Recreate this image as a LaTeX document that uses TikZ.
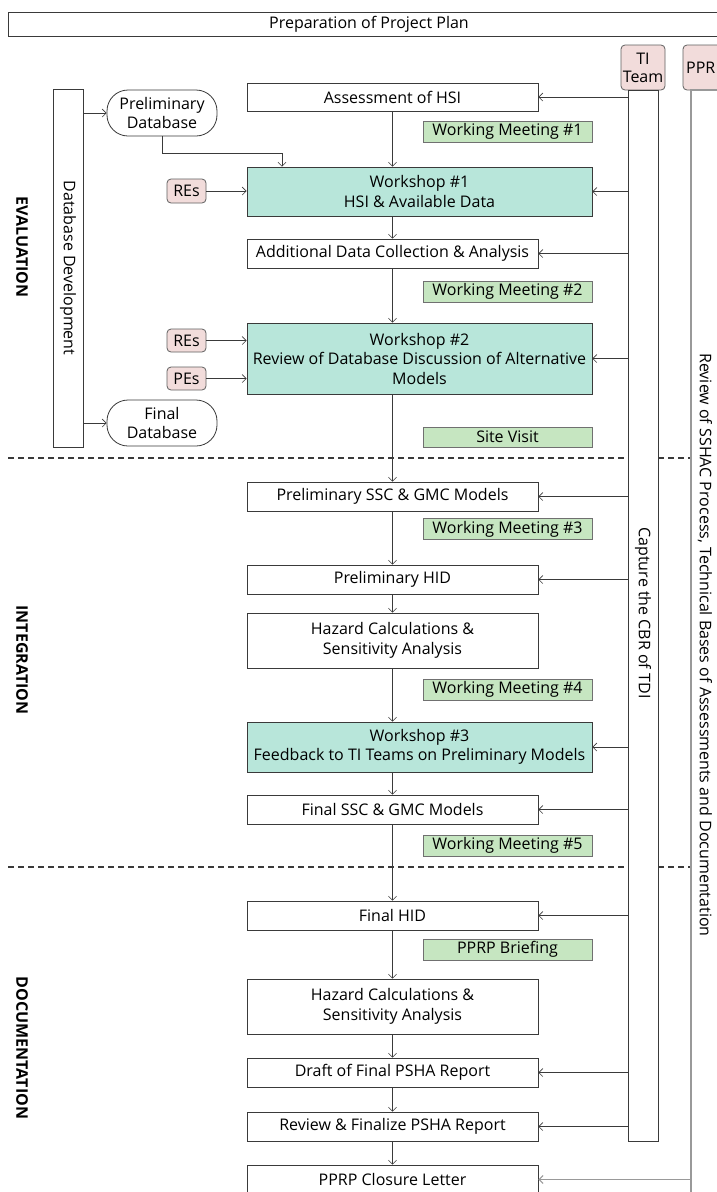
\documentclass[tikz,border=0pt]{standalone}
\usepackage{fontspec}
\setmainfont{Open Sans}
\usetikzlibrary{arrows.meta}
\definecolor{bd}{HTML}{3A3A3A}
\definecolor{wsfill}{HTML}{B8E6DA}
\definecolor{wmfill}{HTML}{C6E6C1}
\definecolor{wmbd}{HTML}{707070}
\definecolor{pkfill}{HTML}{F2DCDB}
\definecolor{pkbd}{HTML}{606060}
\definecolor{pprbd}{HTML}{999999}
\tikzset{
  base/.style={inner sep=0pt, align=center, font=\fontsize{16}{19.5}\selectfont},
  box/.style={base, draw=bd, line width=0.8pt, fill=white},
  wsbox/.style={box, fill=wsfill},
  wmbox/.style={base, draw=wmbd, line width=0.8pt, fill=wmfill, minimum width=169pt, minimum height=21pt},
  pkbox/.style={base, draw=pkbd, line width=0.8pt, fill=pkfill, rounded corners=4pt},
  dbbox/.style={box, rounded corners=21pt, minimum width=110pt, minimum height=46pt},
  arr/.style={draw=bd, line width=0.6pt, -{Straight Barb[length=4pt,width=8pt]}},
  sep/.style={draw=bd, line width=1.2pt, dash pattern=on 6pt off 4pt},
  phase/.style={font=\bfseries\fontsize{16}{18}\selectfont, rotate=-90}
}
\begin{document}
\begin{tikzpicture}[x=1pt,y=-1pt]
\clip (0,0) rectangle (717,1192);
\fill[white] (0,0) rectangle (717,1192);

% separators
\draw[sep] (8,458) -- (691,458);
\draw[sep] (8,867) -- (691,867);

% top box
\node[box, minimum width=722pt, minimum height=24pt] (plan) at (369,24) {};
\node[base] (plantxt) at (369,24) {Preparation of Project Plan};

% right bars
\node[pkbox, minimum width=44pt, minimum height=45pt, font=\fontsize{16}{18}\selectfont] (ti) at (643,67.5) {TI\\Team};
\node[box, minimum width=30pt, minimum height=1051pt] (tibar) at (643,615.5) {};
\node[base, rotate=-90] (cbr) at (643,613) {Capture the CBR of TDI};
\node[pkbox, minimum width=77pt, minimum height=45pt] (ppr) at (721.5,67.5) {};
\node[base, anchor=west] (pprtxt) at (686,67.5) {PPR};
\node[base, draw=pprbd, line width=1.2pt, fill=white, minimum width=69pt, minimum height=1110pt] (pprbar) at (725.5,645) {};
\node[base, rotate=-90] (pprtext) at (705,645) {Review of SSHAC Process, Technical Bases of Assessments and Documentation};

% phase labels
\node[phase] (eval) at (22,247) {EVALUATION};
\node[phase] (integ) at (22,660) {INTEGRATION};
\node[phase] (doc) at (22,1048) {DOCUMENTATION};

% database development
\node[box, minimum width=30pt, minimum height=358pt] (dbbar) at (68,268) {};
\node[base, rotate=-90] (dbtxt) at (68,268) {Database Development};
\node[dbbox] (pdb) at (162,113) {Preliminary\\Database};
\node[dbbox] (fdb) at (162,423) {Final\\Database};

% main boxes
\node[box, minimum width=291pt, minimum height=28pt] (assess) at (392.5,97) {Assessment of HSI};
\node[wmbox] (wm1) at (507.5,131.5) {Working Meeting \#1};
\node[wsbox, minimum width=345pt, minimum height=49pt] (ws1) at (419.5,191.5) {Workshop \#1\\HSI \& Available Data};
\node[box, minimum width=291pt, minimum height=29pt] (addl) at (392.5,253.5) {Additional Data Collection \& Analysis};
\node[wmbox] (wm2) at (507.5,291.5) {Working Meeting \#2};
\node[wsbox, minimum width=345pt, minimum height=71pt] (ws2) at (419.5,358.5) {Workshop \#2\\Review of Database Discussion of Alternative\\Models};
\node[wmbox, minimum height=20pt] (site) at (507.5,437) {Site Visit};
\node[box, minimum width=291pt, minimum height=29pt] (psc) at (392.5,496.5) {Preliminary SSC \& GMC Models};
\node[wmbox] (wm3) at (507.5,529) {Working Meeting \#3};
\node[box, minimum width=291pt, minimum height=29pt] (phid) at (392.5,579.5) {Preliminary HID};
\node[box, minimum width=291pt, minimum height=55pt] (hz1) at (392.5,640.5) {Hazard Calculations \&\\Sensitivity Analysis};
\node[wmbox] (wm4) at (507.5,689.5) {Working Meeting \#4};
\node[wsbox, minimum width=345pt, minimum height=50pt] (ws3) at (419.5,747) {Workshop \#3\\Feedback to TI Teams on Preliminary Models};
\node[box, minimum width=291pt, minimum height=29pt] (fsc) at (392.5,809.5) {Final SSC \& GMC Models};
\node[wmbox] (wm5) at (507.5,845.5) {Working Meeting \#5};
\node[box, minimum width=291pt, minimum height=29pt] (fhid) at (392.5,915.5) {Final HID};
\node[wmbox] (brief) at (507.5,949.5) {PPRP Briefing};
\node[box, minimum width=291pt, minimum height=55pt] (hz2) at (392.5,1006.5) {Hazard Calculations \&\\Sensitivity Analysis};
\node[box, minimum width=291pt, minimum height=29pt] (draft) at (392.5,1072.5) {Draft of Final PSHA Report};
\node[box, minimum width=291pt, minimum height=29pt] (rev) at (392.5,1126.5) {Review \& Finalize PSHA Report};
\node[box, minimum width=291pt, minimum height=29pt] (close) at (392.5,1179.5) {PPRP Closure Letter};

% expert boxes
\node[pkbox, minimum width=39pt, minimum height=24pt] (re1) at (186.5,191) {REs};
\node[pkbox, minimum width=39pt, minimum height=23pt] (re2) at (186.5,340.5) {REs};
\node[pkbox, minimum width=39pt, minimum height=23pt] (pe) at (186.5,378.5) {PEs};

% main chain
\draw[arr] (assess.south) -- (assess.south |- ws1.north);
\draw[arr] (addl.north |- ws1.south) -- (addl.north);
\draw[arr] (addl.south) -- (addl.south |- ws2.north);
\draw[arr] (psc.north |- ws2.south) -- (psc.north);
\draw[arr] (psc.south) -- (phid.north);
\draw[arr] (phid.south) -- (hz1.north);
\draw[arr] (hz1.south) -- (hz1.south |- ws3.north);
\draw[arr] (fsc.north |- ws3.south) -- (fsc.north);
\draw[arr] (fsc.south) -- (fhid.north);
\draw[arr] (fhid.south) -- (hz2.north);
\draw[arr] (hz2.south) -- (draft.north);
\draw[arr] (draft.south) -- (rev.north);
\draw[arr] (rev.south) -- (close.north);

% database arrows
\draw[arr] (dbbar.east |- pdb.west) -- (pdb.west);
\draw[arr] (dbbar.east |- fdb.west) -- (fdb.west);
\coordinate (j) at (282,153);
\draw[arr] (pdb.south) |- (j) -- (j |- ws1.north);

% experts
\draw[arr] (re1.east) -- (re1.east -| ws1.west);
\draw[arr] (re2.east) -- (re2.east -| ws2.west);
\draw[arr] (pe.east) -- (pe.east -| ws2.west);

% TI team arrows
\foreach \n in {assess,ws1,addl,ws2,psc,phid,ws3,fsc,fhid,draft,rev}
  \draw[arr] (tibar.west |- \n.east) -- (\n.east);
\draw[arr, draw=pprbd, line width=1pt] (pprbar.west |- close.east) -- (close.east);
\end{tikzpicture}
\end{document}
